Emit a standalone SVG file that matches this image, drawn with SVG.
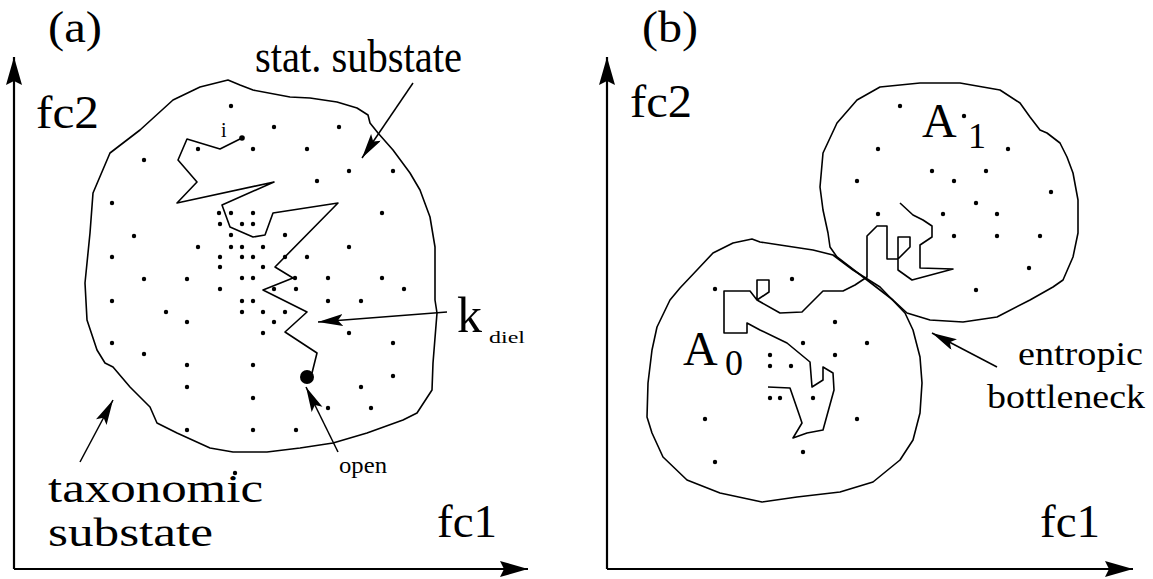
<svg xmlns="http://www.w3.org/2000/svg" width="1153" height="579" viewBox="0 0 1153 579">
<style>
.t{font-family:'Liberation Serif',serif;fill:#000}
.ln{fill:none;stroke:#000;stroke-width:1.6;stroke-linejoin:round}
.ax{fill:none;stroke:#000;stroke-width:2.2}
.ar{fill:none;stroke:#000;stroke-width:1.5}
.d{fill:#000}
</style>
<defs>
<marker id="ah" markerUnits="userSpaceOnUse" markerWidth="30" markerHeight="16" refX="25" refY="6" orient="auto">
<path d="M0,0 L25,6 L0,12 L5,6 Z" fill="#000"/>
</marker>
<marker id="axh" markerUnits="userSpaceOnUse" markerWidth="32" markerHeight="20" refX="28" refY="8" orient="auto">
<path d="M0,0 L28,8 L0,16 L4,8 Z" fill="#000"/>
</marker>
</defs>
<rect width="1153" height="579" fill="#fff"/>

<g id="panel-a">
<text class="t" x="48" y="42" font-size="44" textLength="54" lengthAdjust="spacingAndGlyphs">(a)</text>
<g id="axes-a">
<line class="ax" x1="14" y1="569" x2="528" y2="569" marker-end="url(#axh)"/>
<line class="ax" x1="14" y1="569" x2="14" y2="57" marker-end="url(#axh)"/>
</g>
<text class="t" x="36" y="128" font-size="46" textLength="63" lengthAdjust="spacingAndGlyphs">fc2</text>
<text class="t" x="437" y="537" font-size="46" textLength="60" lengthAdjust="spacingAndGlyphs">fc1</text>
<g id="taxonomic-substate">
<path class="ln" d="M110,153 L140,130 173,100 200,87 228,80 240,85 253,90 290,97 310,98 337,102 357,108 368,115 370,123 378,133 393,150 410,173 420,190 430,217 435,247 435,300 437,313 433,363 432,390 417,413 403,420 367,433 333,443 300,448 267,452 233,452 210,448 177,433 157,423 150,407 130,387 113,367 105,363 97,350 87,320 85,283 90,233 93,193 Z"/>
</g>
<g id="walk-a">
<polyline class="ln" points="242,138 220,149 187,139 178,160 197,182 177,203 274,182 222,205 230,227 253,237 265,235 273,213 338,203 275,267 293,278 263,290 307,312 285,332 317,353 312,373"/>
<circle cx="242" cy="138" r="2.8" class="d"/>
<circle cx="307" cy="377" r="7" class="d"/>
</g>
<text class="t" x="221" y="137" font-size="20">i</text>
<g id="dots-a" class="d">
<circle cx="231" cy="106" r="2.2"/><circle cx="274" cy="127" r="2.2"/><circle cx="339" cy="127" r="2.2"/>
<circle cx="198" cy="149" r="2.2"/><circle cx="253" cy="149" r="2.2"/><circle cx="307" cy="149" r="2.2"/>
<circle cx="144" cy="160" r="2.2"/><circle cx="349" cy="171" r="2.2"/><circle cx="393" cy="171" r="2.2"/>
<circle cx="317" cy="181" r="2.2"/><circle cx="112" cy="203" r="2.2"/>
<circle cx="219" cy="213" r="2.2"/><circle cx="231" cy="213" r="2.2"/><circle cx="253" cy="213" r="2.2"/><circle cx="382" cy="213" r="2.2"/>
<circle cx="220" cy="224" r="2.2"/><circle cx="242" cy="224" r="2.2"/><circle cx="253" cy="224" r="2.2"/>
<circle cx="134" cy="236" r="2.2"/><circle cx="231" cy="235" r="2.2"/><circle cx="285" cy="235" r="2.2"/>
<circle cx="198" cy="247" r="2.2"/><circle cx="231" cy="247" r="2.2"/><circle cx="242" cy="247" r="2.2"/><circle cx="263" cy="247" r="2.2"/><circle cx="349" cy="247" r="2.2"/>
<circle cx="112" cy="257" r="2.2"/><circle cx="220" cy="257" r="2.2"/><circle cx="242" cy="257" r="2.2"/><circle cx="253" cy="257" r="2.2"/><circle cx="285" cy="257" r="2.2"/><circle cx="307" cy="257" r="2.2"/>
<circle cx="220" cy="267" r="2.2"/><circle cx="263" cy="267" r="2.2"/>
<circle cx="144" cy="279" r="2.2"/><circle cx="187" cy="279" r="2.2"/><circle cx="242" cy="278" r="2.2"/><circle cx="253" cy="278" r="2.2"/><circle cx="295" cy="278" r="2.2"/><circle cx="328" cy="278" r="2.2"/><circle cx="382" cy="278" r="2.2"/>
<circle cx="220" cy="289" r="2.2"/><circle cx="274" cy="289" r="2.2"/><circle cx="296" cy="289" r="2.2"/><circle cx="404" cy="289" r="2.2"/>
<circle cx="112" cy="301" r="2.2"/><circle cx="242" cy="301" r="2.2"/><circle cx="253" cy="301" r="2.2"/><circle cx="328" cy="301" r="2.2"/><circle cx="361" cy="301" r="2.2"/>
<circle cx="166" cy="312" r="2.2"/><circle cx="242" cy="312" r="2.2"/><circle cx="263" cy="312" r="2.2"/><circle cx="285" cy="312" r="2.2"/>
<circle cx="187" cy="322" r="2.2"/><circle cx="274" cy="322" r="2.2"/>
<circle cx="263" cy="333" r="2.2"/><circle cx="349" cy="333" r="2.2"/>
<circle cx="112" cy="343" r="2.2"/><circle cx="393" cy="343" r="2.2"/>
<circle cx="144" cy="354" r="2.2"/>
<circle cx="187" cy="365" r="2.2"/><circle cx="253" cy="365" r="2.2"/>
<circle cx="393" cy="376" r="2.2"/>
<circle cx="187" cy="387" r="2.2"/><circle cx="361" cy="387" r="2.2"/>
<circle cx="253" cy="398" r="2.2"/>
<circle cx="328" cy="408" r="2.2"/><circle cx="371" cy="408" r="2.2"/>
<circle cx="187" cy="430" r="2.2"/><circle cx="253" cy="430" r="2.2"/><circle cx="296" cy="430" r="2.2"/>
<circle cx="235" cy="473" r="2.2"/>
</g>
<g id="label-stat">
<text class="t" x="255" y="72" font-size="46" textLength="207" lengthAdjust="spacingAndGlyphs">stat. substate</text>
<line class="ar" x1="413" y1="83" x2="362" y2="158" marker-end="url(#ah)"/>
</g>
<g id="label-kdiel">
<text class="t" x="457" y="332" font-size="50">k</text>
<text class="t" x="489" y="343" font-size="17" textLength="36" lengthAdjust="spacingAndGlyphs">diel</text>
<line class="ar" x1="447" y1="312" x2="318" y2="322" marker-end="url(#ah)"/>
</g>
<g id="label-open">
<text class="t" x="339" y="473" font-size="24" textLength="48" lengthAdjust="spacingAndGlyphs">open</text>
<line class="ar" x1="338" y1="452" x2="306" y2="387" marker-end="url(#ah)"/>
</g>
<g id="label-taxonomic">
<text class="t" x="48" y="502" font-size="40" textLength="215" lengthAdjust="spacingAndGlyphs">taxonomic</text>
<text class="t" x="48" y="546" font-size="40" textLength="165" lengthAdjust="spacingAndGlyphs">substate</text>
<line class="ar" x1="80" y1="462" x2="113" y2="400" marker-end="url(#ah)"/>
</g>
</g>

<g id="panel-b">
<text class="t" x="642" y="42" font-size="44" textLength="56" lengthAdjust="spacingAndGlyphs">(b)</text>
<g id="axes-b">
<line class="ax" x1="607" y1="569" x2="1133" y2="569" marker-end="url(#axh)"/>
<line class="ax" x1="607" y1="569" x2="607" y2="57" marker-end="url(#axh)"/>
</g>
<text class="t" x="630" y="117" font-size="46" textLength="62" lengthAdjust="spacingAndGlyphs">fc2</text>
<text class="t" x="1040" y="537" font-size="46" textLength="60" lengthAdjust="spacingAndGlyphs">fc1</text>
<g id="A0">
<path class="ln" d="M752,239 L733,243 713,253 697,270 680,288 670,300 657,327 652,350 648,383 647,417 652,433 663,457 687,480 720,493 762,502 797,497 840,492 873,482 900,460 913,440 920,413 922,383 920,357 913,330 905,313 880,287 853,270 833,255 813,250 780,245 760,242 Z"/>
<text class="t" x="683" y="365" font-size="48">A</text>
<text class="t" x="725" y="375" font-size="36">0</text>
</g>
<g id="A1">
<path class="ln" d="M857,100 L837,123 823,153 820,187 823,210 828,233 830,247 837,257 867,280 893,300 907,313 930,320 963,322 997,317 1030,300 1053,287 1063,280 1073,257 1078,233 1078,200 1073,173 1067,157 1060,143 1047,133 1040,130 1030,117 1020,103 1000,90 960,83 920,83 880,87 Z"/>
<text class="t" x="922" y="137" font-size="48">A</text>
<text class="t" x="968" y="148" font-size="36">1</text>
</g>
<g id="walk-b">
<polyline class="ln" points="768,387 790,388 800,417 802,423 793,438 807,433 823,430 834,390 833,373 823,367 823,380 812,387 810,362 787,343 760,330 747,323 747,333 724,333 724,291 750,291 757,300 757,280 769,280 769,292 757,300 780,313 802,312 823,291 843,291 855,285 867,277 867,236 877,226 887,226 887,259 898,259 910,247 910,237 898,237 898,270 912,280 953,269 920,268 920,245 932,237 932,226 923,220 913,215 900,203"/>
</g>
<g id="dots-b" class="d">
<circle cx="900" cy="106" r="2.2"/><circle cx="964" cy="116" r="2.2"/><circle cx="878" cy="149" r="2.2"/><circle cx="1008" cy="149" r="2.2"/>
<circle cx="932" cy="171" r="2.2"/><circle cx="986" cy="171" r="2.2"/><circle cx="857" cy="181" r="2.2"/><circle cx="954" cy="181" r="2.2"/>
<circle cx="1051" cy="192" r="2.2"/><circle cx="976" cy="203" r="2.2"/><circle cx="878" cy="214" r="2.2"/><circle cx="943" cy="214" r="2.2"/><circle cx="997" cy="214" r="2.2"/>
<circle cx="954" cy="236" r="2.2"/><circle cx="997" cy="236" r="2.2"/><circle cx="1040" cy="236" r="2.2"/>
<circle cx="1029" cy="268" r="2.2"/><circle cx="976" cy="290" r="2.2"/>
<circle cx="715" cy="289" r="2.2"/><circle cx="792" cy="279" r="2.2"/><circle cx="835" cy="322" r="2.2"/>
<circle cx="803" cy="343" r="2.2"/><circle cx="867" cy="343" r="2.2"/>
<circle cx="770" cy="355" r="2.2"/><circle cx="835" cy="355" r="2.2"/><circle cx="770" cy="366" r="2.2"/><circle cx="791" cy="366" r="2.2"/>
<circle cx="770" cy="398" r="2.2"/><circle cx="780" cy="398" r="2.2"/><circle cx="813" cy="398" r="2.2"/>
<circle cx="705" cy="419" r="2.2"/><circle cx="857" cy="419" r="2.2"/>
<circle cx="803" cy="452" r="2.2"/><circle cx="715" cy="462" r="2.2"/>
</g>
<g id="label-bottleneck">
<text class="t" x="1018" y="365" font-size="34" textLength="125" lengthAdjust="spacingAndGlyphs">entropic</text>
<text class="t" x="987" y="408" font-size="34" textLength="158" lengthAdjust="spacingAndGlyphs">bottleneck</text>
<line class="ar" x1="997" y1="367" x2="932" y2="333" marker-end="url(#ah)"/>
</g>
</g>
</svg>
